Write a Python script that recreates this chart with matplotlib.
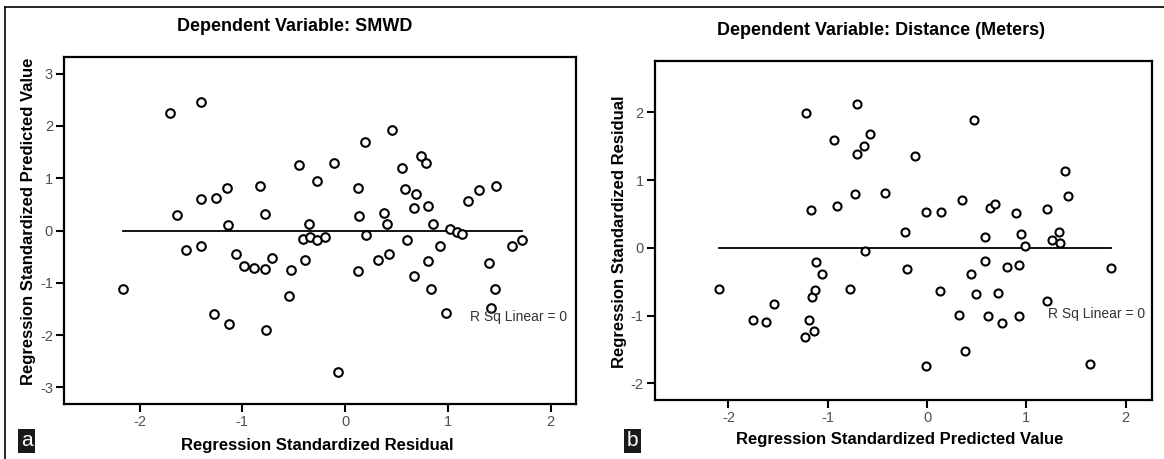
import matplotlib
matplotlib.use('Agg')
import matplotlib.pyplot as plt
from matplotlib.lines import Line2D

plt.rcParams['font.family'] = ['Liberation Sans', 'DejaVu Sans']
plt.rcParams['axes.unicode_minus'] = False

# Panel a: residual (x) vs predicted value (y), dependent variable SMWD
smwd_resid = [-1.70, -1.40, -1.64, -1.40, -1.26, -1.15, -1.14, -0.83, -0.78, -0.45,
              -2.16, -1.55, -1.40, -1.06, -0.98, -0.89, -0.78, -0.71, -0.53, -0.55,
              -1.28, -1.13, -0.77, -0.35, -0.41, -0.34, -0.27, -0.20, -0.39, 0.20,
              0.13, -0.07, 0.41, 0.32, 0.43, 0.60, 0.67, 0.81, 0.84, 0.86,
              0.92, 0.98, 1.02, 1.09, 1.14, 1.40, 1.46, 1.42, 1.62, 1.72,
              -0.11, -0.27, 0.19, 0.46, 0.13, 0.14, 0.38, 0.55, 0.58, 0.69,
              0.67, 0.81, 0.74, 0.79, 1.20, 1.30, 1.47]
smwd_pred = [2.24, 2.46, 0.30, 0.61, 0.62, 0.81, 0.10, 0.85, 0.31, 1.25,
             -1.12, -0.37, -0.30, -0.44, -0.68, -0.72, -0.73, -0.52, -0.76, -1.25,
             -1.60, -1.79, -1.90, 0.12, -0.16, -0.13, -0.19, -0.13, -0.56, -0.09,
             -0.78, -2.71, 0.12, -0.56, -0.45, -0.18, -0.87, -0.58, -1.11, 0.12,
             -0.30, -1.57, 0.02, -0.03, -0.07, -0.63, -1.11, -1.49, -0.30, -0.19,
             1.29, 0.95, 1.70, 1.92, 0.81, 0.28, 0.33, 1.19, 0.79, 0.70,
             0.43, 0.47, 1.43, 1.29, 0.57, 0.77, 0.86]

# Panel b: predicted value (x) vs residual (y), dependent variable Distance
dist_pred = [-1.22, -0.71, -0.94, -0.57, -0.64, -0.71, -0.73, -0.91, -1.17,
             0.47, -0.12, -0.42, 1.39, 1.42, -0.01, 0.14, 0.35, 0.63, 0.68,
             0.90, 1.21, -0.22, 0.58, 0.95, 1.33, 1.26,
             -0.62, -0.20, 0.13, 0.32, 0.38, -0.01, 0.58, 0.44, 0.49, 0.61,
             0.71, 0.75, 0.80, 0.93, 0.93, 0.99, 1.21, 1.34, 1.64, 1.85,
             -2.10, -1.75, -1.62, -1.54, -1.23, -1.14, -1.19, -1.16, -1.13, -1.12,
             -1.06, -0.78]
dist_resid = [1.99, 2.13, 1.59, 1.68, 1.51, 1.39, 0.80, 0.62, 0.56,
              1.89, 1.36, 0.81, 1.13, 0.77, 0.53, 0.53, 0.71, 0.59, 0.65,
              0.51, 0.57, 0.23, 0.16, 0.21, 0.23, 0.12,
              -0.05, -0.31, -0.64, -0.99, -1.52, -1.75, -0.19, -0.38, -0.68, -1.01,
              -0.66, -1.11, -0.28, -0.25, -1.00, 0.03, -0.79, 0.07, -1.71, -0.29,
              -0.61, -1.06, -1.09, -0.83, -1.32, -1.22, -1.06, -0.73, -0.62, -0.21,
              -0.38, -0.61]

fig = plt.figure(figsize=(11.64, 4.59), dpi=100)

ax1 = fig.add_axes([0.0550, 0.1198, 0.4399, 0.7560])
ax2 = fig.add_axes([0.5627, 0.1279, 0.4274, 0.7392])

def style(ax, xs, ys, xlim, ylim, yticks, ms):
    ax.plot(xs, ys, 'o', mfc='white', mec='black', ms=ms, mew=1.5, zorder=3)
    ax.plot([min(xs), max(xs)], [0, 0], color='black', lw=1.3, zorder=2)
    ax.set_xlim(*xlim)
    ax.set_ylim(*ylim)
    ax.set_xticks([-2, -1, 0, 1, 2])
    ax.set_yticks(yticks)
    for s in ax.spines.values():
        s.set_linewidth(1.6)
    ax.tick_params(direction='out', length=6, width=1.5, labelsize=10.5,
                   labelcolor='#505050', pad=2)

style(ax1, smwd_resid, smwd_pred, (-2.735, 2.248), (-3.32, 3.32), [-3, -2, -1, 0, 1, 2, 3], 6.2)
style(ax2, dist_pred, dist_resid, (-2.74, 2.27), (-2.25, 2.76), [-2, -1, 0, 1, 2], 5.8)

narrow = ['Liberation Sans Narrow', 'Liberation Sans', 'DejaVu Sans']
ax1.text(1.22, -1.65, 'R Sq Linear = 0', fontsize=10, family=narrow,
         color='#333333', ha='left', va='center')
ax2.text(1.22, -0.97, 'R Sq Linear = 0', fontsize=10, family=narrow,
         color='#333333', ha='left', va='center')

# titles and axis labels
fig.text(0.2534, 0.942, 'Dependent Variable: SMWD', fontsize=13, fontweight='bold',
         ha='center', va='center')
fig.text(0.757, 0.933, 'Dependent Variable: Distance (Meters)', fontsize=13,
         fontweight='bold', ha='center', va='center')
fig.text(0.2723, 0.030, 'Regression Standardized Residual', fontsize=12,
         fontweight='bold', ha='center', va='center')
fig.text(0.7732, 0.043, 'Regression Standardized Predicted Value', fontsize=12,
         fontweight='bold', ha='center', va='center')
fig.text(0.0241, 0.518, 'Regression Standardized Predicted Value', fontsize=12,
         fontweight='bold', ha='center', va='center', rotation=90)
fig.text(0.5326, 0.495, 'Regression Standardized Residual', fontsize=12,
         fontweight='bold', ha='center', va='center', rotation=90)

# panel letters
for x, lab in [(0.0228, 'a'), (0.5434, 'b')]:
    fig.text(x, 0.040, lab, fontsize=15, color='white', ha='center', va='center',
             bbox=dict(boxstyle='square,pad=0.12', fc='#1a1a1a', ec='none'))

# outer border (top and left edges)
fig.add_artist(Line2D([0.0043, 1.0], [0.9847, 0.9847], color='black', lw=1.2))
fig.add_artist(Line2D([0.0043, 0.0043], [0.0, 0.9847], color='black', lw=1.2))

fig.savefig('out.png', dpi=100)
